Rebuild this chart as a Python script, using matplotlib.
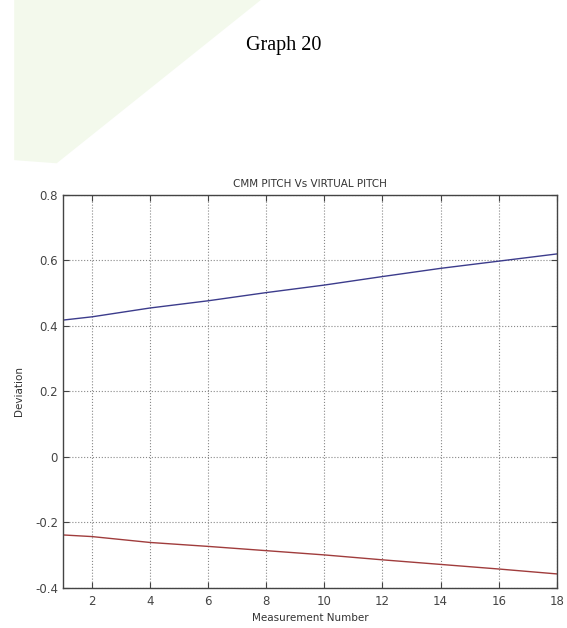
import matplotlib
matplotlib.use("Agg")
import matplotlib.pyplot as plt
from matplotlib.patches import Polygon

measurement = [1, 2, 4, 6, 8, 10, 12, 14, 16, 18]
cmm_pitch = [0.418, 0.428, 0.455, 0.477, 0.502, 0.525, 0.551, 0.576, 0.598, 0.620]
virtual_pitch = [-0.238, -0.243, -0.261, -0.273, -0.286, -0.299, -0.314, -0.328, -0.342, -0.357]
x_ticks = [2, 4, 6, 8, 10, 12, 14, 16, 18]
y_ticks = [-0.4, -0.2, 0, 0.2, 0.4, 0.6, 0.8]
y_tick_labels = ["-0.4", "-0.2", "0", "0.2", "0.4", "0.6", "0.8"]

fig = plt.figure(figsize=(5.67, 6.28), dpi=100)
fig.patch.set_facecolor("white")

# faint page decoration in the background
deco = Polygon([[0.025, 0.745], [0.025, 1.0], [0.46, 1.0], [0.10, 0.74]], closed=True,
               transform=fig.transFigure, facecolor="#f3f9ec", edgecolor="none", zorder=0)
fig.patches.append(deco)

fig.text(0.5, 0.928, "Graph 20", ha="center", va="center",
         fontsize=14.5, family="Liberation Serif", color="black")

ax = fig.add_axes([0.111, 0.0637, 0.871, 0.6258])
ax.plot(measurement, cmm_pitch, color="#3c3c8c", lw=1.0)
ax.plot(measurement, virtual_pitch, color="#a03c3c", lw=1.0)

ax.set_xlim(1, 18)
ax.set_ylim(-0.4, 0.8)
ax.set_xticks(x_ticks)
ax.set_yticks(y_ticks)
ax.set_yticklabels(y_tick_labels)
ax.grid(True, linestyle=":", color="#888888", linewidth=0.8)
ax.tick_params(direction="in", top=True, right=True, labelsize=8.5, colors="#444444",
               length=4)
ax.tick_params(axis="x", pad=5)
for s in ax.spines.values():
    s.set_color("#444444")
    s.set_linewidth(1.0)

ax.set_title("CMM PITCH Vs VIRTUAL PITCH", fontsize=7.5, color="#333333", pad=6)
ax.set_xlabel("Measurement Number", fontsize=7.5, color="#333333", labelpad=4)
ax.set_ylabel("Deviation", fontsize=7.5, color="#333333", labelpad=8)

fig.savefig("out.png", dpi=100)
